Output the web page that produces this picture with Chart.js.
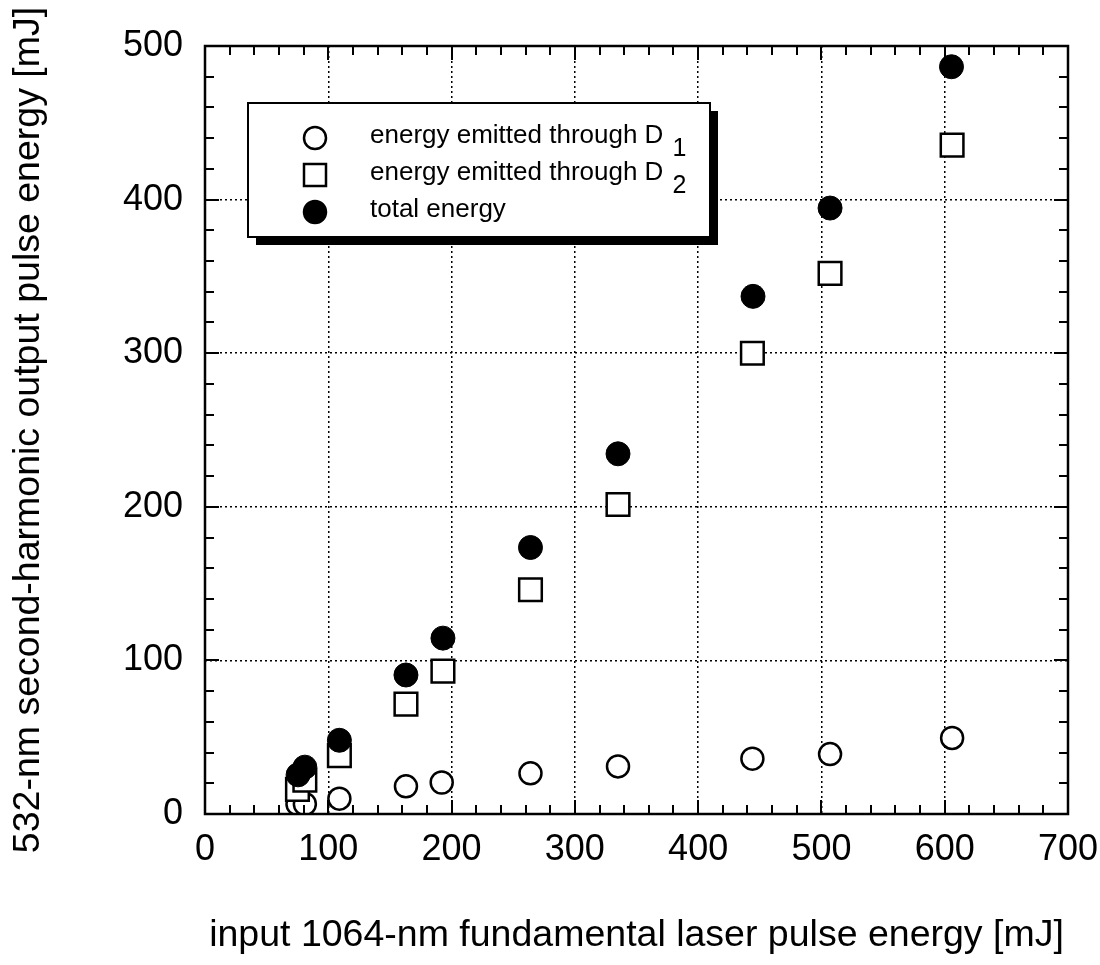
<!DOCTYPE html>
<html>
<head>
<meta charset="utf-8">
<script src="https://cdn.jsdelivr.net/npm/chart.js@4/dist/chart.umd.min.js"></script>
<style>
  html, body { margin: 0; padding: 0; background: #fff; }
  #wrap { width: 1100px; height: 965px; }
</style>
</head>
<body>
<div id="wrap"><canvas id="c" width="1100" height="965"></canvas></div>
<script>
// ---- data ----
const xD1 = [75, 81, 109, 163, 192, 264, 335, 444, 507, 606];
const yD1 = [6.5, 6.5, 10, 18, 20.5, 26.5, 31, 36, 39, 49.5];

const xD2 = [75, 81, 109, 163, 193, 264, 335, 444, 507, 606];
const yD2 = [16, 22, 38, 71.5, 93, 146, 201.5, 300, 352, 435.5];

const xTotal = [75.5, 81, 109, 163, 193, 264, 335, 444.5, 507, 605.5];
const yTotal = [25.5, 30.5, 48, 90.5, 114.5, 173.5, 234.5, 337, 394.5, 486.5];

const seriesNames = ['energy emitted through D', 'energy emitted through D', 'total energy'];
const seriesSubs = ['1', '2', ''];

const xTitle = 'input 1064-nm fundamental laser pulse energy [mJ]';
const yTitle = '532-nm second-harmonic output pulse energy [mJ]';

const xMin = 0, xMax = 700, xMajor = 100, xMinor = 20;
const yMin = 0, yMax = 500, yMajor = 100, yMinor = 20;

function pts(xs, ys) { return xs.map((x, i) => ({ x: x, y: ys[i] })); }

const FONT = "'Liberation Sans', Arial, Helvetica, sans-serif";

// frame + inward ticks on all four sides
const framePlugin = {
  id: 'frame',
  afterDatasetsDraw(chart) {
    const { ctx, chartArea: a, scales } = chart;
    const xs = scales.x, ys = scales.y;
    ctx.save();
    ctx.strokeStyle = '#000';
    ctx.lineWidth = 2;
    ctx.beginPath();
    for (let v = xMin; v <= xMax + 1e-9; v += xMinor) {
      const px = Math.round(xs.getPixelForValue(v));
      const len = (Math.abs(v % xMajor) < 1e-9) ? 14 : 9;
      ctx.moveTo(px, a.bottom); ctx.lineTo(px, a.bottom - len);
      ctx.moveTo(px, a.top); ctx.lineTo(px, a.top + len);
    }
    for (let v = yMin; v <= yMax + 1e-9; v += yMinor) {
      const py = Math.round(ys.getPixelForValue(v));
      const len = (Math.abs(v % yMajor) < 1e-9) ? 14 : 9;
      ctx.moveTo(a.left, py); ctx.lineTo(a.left + len, py);
      ctx.moveTo(a.right, py); ctx.lineTo(a.right - len, py);
    }
    ctx.stroke();
    ctx.lineWidth = 2.5;
    ctx.strokeRect(a.left, a.top, a.right - a.left, a.bottom - a.top);
    ctx.restore();
  }
};

// boxed legend with drop shadow
const legendPlugin = {
  id: 'boxLegend',
  afterDraw(chart) {
    const { ctx } = chart;
    const bx = 248, by = 103, bw = 462, bh = 134, sh = 8;
    ctx.save();
    ctx.fillStyle = '#000';
    ctx.fillRect(bx + sh, by + sh, bw, bh);
    ctx.fillStyle = '#fff';
    ctx.fillRect(bx, by, bw, bh);
    ctx.strokeStyle = '#000';
    ctx.lineWidth = 2;
    ctx.strokeRect(bx, by, bw, bh);

    const rows = [138, 175, 212];
    const symX = 315, textX = 370;
    chart.data.datasets.forEach((ds, i) => {
      const y = rows[i];
      ctx.lineWidth = 2.5;
      ctx.strokeStyle = '#000';
      ctx.fillStyle = ds.pointBackgroundColor;
      ctx.beginPath();
      if (ds.pointStyle === 'rect') {
        ctx.rect(symX - 11, y - 11, 22, 22);
      } else {
        ctx.arc(symX, y, 11, 0, Math.PI * 2);
      }
      ctx.fill();
      ctx.stroke();
      ctx.fillStyle = '#000';
      ctx.font = '26px ' + FONT;
      ctx.textBaseline = 'middle';
      ctx.textAlign = 'left';
      ctx.fillText(seriesNames[i], textX, y - 2);
      if (seriesSubs[i]) {
        const w = ctx.measureText(seriesNames[i]).width;
        ctx.font = '25px ' + FONT;
        ctx.fillText(seriesSubs[i], textX + w + 9, y + 11);
      }
    });
    ctx.restore();
  }
};

const tickFont = { family: FONT, size: 36 };
const titleFont = { family: FONT, size: 37.5 };

new Chart(document.getElementById('c'), {
  type: 'scatter',
  data: {
    datasets: [
      {
        label: seriesNames[0] + ' ' + seriesSubs[0],
        data: pts(xD1, yD1),
        pointStyle: 'circle',
        pointRadius: 11,
        pointBorderWidth: 2.5,
        pointBorderColor: '#000',
        pointBackgroundColor: '#fff',
        order: 3
      },
      {
        label: seriesNames[1] + ' ' + seriesSubs[1],
        data: pts(xD2, yD2),
        pointStyle: 'rect',
        pointRadius: 16,
        pointBorderWidth: 2.5,
        pointBorderColor: '#000',
        pointBackgroundColor: '#fff',
        order: 2
      },
      {
        label: seriesNames[2],
        data: pts(xTotal, yTotal),
        pointStyle: 'circle',
        pointRadius: 12,
        pointBorderWidth: 1,
        pointBorderColor: '#000',
        pointBackgroundColor: '#000',
        order: 1
      }
    ]
  },
  options: {
    responsive: false,
    animation: false,
    devicePixelRatio: 1,
    layout: { padding: { top: 46, right: 32, left: 0, bottom: 0 } },
    plugins: {
      legend: { display: false },
      tooltip: { enabled: false }
    },
    elements: { point: { hoverRadius: 12 } },
    scales: {
      x: {
        type: 'linear',
        min: xMin, max: xMax,
        afterFit(s) { s.height = 151; s.paddingLeft = 0; s.paddingRight = 0; },
        ticks: { stepSize: xMajor, color: '#000', font: tickFont, padding: 14, maxRotation: 0 },
        grid: { color: '#000', lineWidth: 1.5, drawTicks: false },
        border: { display: false, dash: [2, 3] },
        title: { display: true, text: xTitle, color: '#000', font: titleFont, padding: { top: 0, bottom: 7 } }
      },
      y: {
        type: 'linear',
        min: yMin, max: yMax,
        afterFit(s) { s.width = 205; s.paddingTop = 0; s.paddingBottom = 0; },
        ticks: { stepSize: yMajor, color: '#000', font: tickFont, padding: 22 },
        grid: { color: '#000', lineWidth: 1.5, drawTicks: false },
        border: { display: false, dash: [2, 3] },
        title: { display: true, text: yTitle, color: '#000', font: titleFont, padding: { top: 6, bottom: 0 } }
      }
    }
  },
  plugins: [framePlugin, legendPlugin]
});
</script>
</body>
</html>
